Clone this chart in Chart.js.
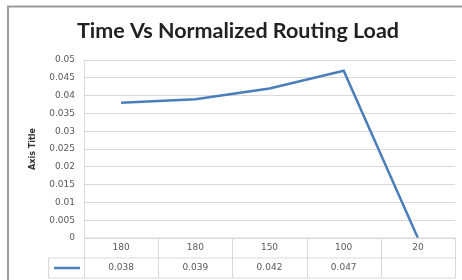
<!DOCTYPE html>
<html>
<script src="https://cdn.jsdelivr.net/npm/chart.js@4.4.0/dist/chart.umd.min.js"></script>
<body style="margin:0;background:#fff">
<canvas id="myChart" width="462" height="280" style="display:block;width:462px;height:280px"></canvas>

<script>
    const chartTitle = "Time Vs Normalized Routing Load";
    const yTitle = "Axis Title";
    const categories = ["180", "180", "150", "100", "20"];
    const loadValues = [0.038, 0.039, 0.042, 0.047, 0];
    // last cell of the data table is blank in the original
    const tableValues = ["0.038", "0.039", "0.042", "0.047", ""];

    const lineColor = "#4a7ebb";
    const gridColor = "#d9d9d9";
    const textColor = "#595959";
    const smallFont = "'DejaVu Sans', sans-serif";

    // frame, title, y title and the data table under the plot
    const extras = {
        id: "extras",
        beforeDraw(chart) {
            const ctx = chart.ctx;
            ctx.save();
            ctx.strokeStyle = "#9a9a9a";
            ctx.lineWidth = 2;
            ctx.beginPath();
            ctx.moveTo(8, 280);
            ctx.lineTo(8, 6.5);
            ctx.lineTo(462, 6.5);
            ctx.stroke();
            ctx.restore();
        },
        afterDraw(chart) {
            const ctx = chart.ctx;
            const area = chart.chartArea;
            const xs = chart.scales.x;
            ctx.save();

            ctx.fillStyle = "#222";
            ctx.font = "bold 21.5px Lato, 'Open Sans', sans-serif";
            ctx.textAlign = "center";
            ctx.textBaseline = "middle";
            ctx.fillText(chartTitle, 238, 31);

            ctx.save();
            ctx.translate(33, 149);
            ctx.rotate(-Math.PI / 2);
            ctx.font = "bold 8px " + smallFont;
            ctx.fillStyle = "#333";
            ctx.fillText(yTitle, 0, 0);
            ctx.restore();

            const step = xs.getPixelForValue(1) - xs.getPixelForValue(0);
            const top = area.bottom;
            const rowH = 20;
            const mid = top + rowH;
            const bot = top + rowH * 2;
            const keyLeft = 48.5;

            ctx.strokeStyle = gridColor;
            ctx.lineWidth = 1;
            ctx.beginPath();
            ctx.moveTo(area.left, top);
            ctx.lineTo(area.right, top);
            ctx.moveTo(keyLeft, mid);
            ctx.lineTo(area.right, mid);
            ctx.moveTo(keyLeft, bot);
            ctx.lineTo(area.right, bot);
            ctx.moveTo(keyLeft, mid);
            ctx.lineTo(keyLeft, bot);
            for (let i = 0; i <= categories.length; i++) {
                const x = Math.round(xs.getPixelForValue(i) - step / 2) + 0.5;
                ctx.moveTo(x, top);
                ctx.lineTo(x, bot);
            }
            ctx.stroke();

            ctx.strokeStyle = lineColor;
            ctx.lineWidth = 2.5;
            ctx.beginPath();
            ctx.moveTo(54, mid + rowH / 2);
            ctx.lineTo(80, mid + rowH / 2);
            ctx.stroke();

            ctx.fillStyle = textColor;
            ctx.font = "9px " + smallFont;
            ctx.textAlign = "center";
            ctx.textBaseline = "middle";
            for (let i = 0; i < categories.length; i++) {
                const x = xs.getPixelForValue(i);
                ctx.fillText(categories[i], x, top + rowH / 2);
                ctx.fillText(tableValues[i], x, mid + rowH / 2);
            }
            ctx.restore();
        }
    };

    const myChart = new Chart("myChart", {
        type: "line",
        data: {
            labels: categories,
            datasets: [{
                data: loadValues,
                borderColor: lineColor,
                borderWidth: 2.5,
                pointRadius: 0,
                tension: 0,
                fill: false
            }]
        },
        options: {
            responsive: false,
            animation: false,
            layout: {padding: {top: 60, right: 7, bottom: 42, left: 0}},
            plugins: {
                legend: {display: false},
                title: {display: false},
                tooltip: {enabled: false}
            },
            scales: {
                x: {
                    display: false,
                    offset: true
                },
                y: {
                    min: 0,
                    max: 0.05,
                    afterFit: (s) => { s.width = 84; },
                    grid: {color: gridColor, drawTicks: false},
                    border: {display: true, color: gridColor},
                    ticks: {
                        stepSize: 0.005,
                        padding: 9,
                        color: textColor,
                        font: {size: 9, family: smallFont},
                        callback: (v) => String(+v.toFixed(3))
                    }
                }
            }
        },
        plugins: [extras]
    });
</script>
</body>
</html>
